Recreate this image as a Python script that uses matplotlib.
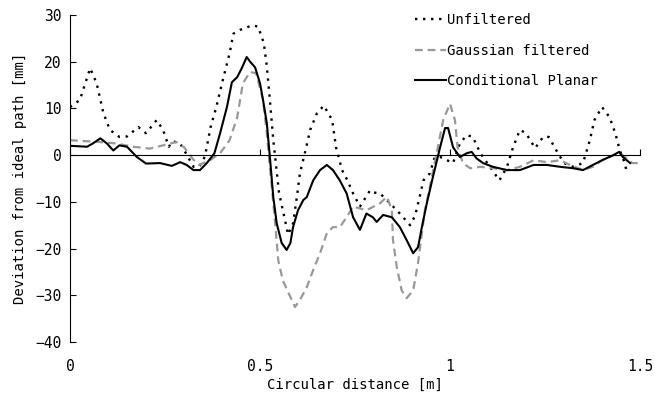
import matplotlib
matplotlib.use("Agg")
import matplotlib.pyplot as plt

# ---- data ----
unf_x = [0.0, 0.026, 0.053, 0.07, 0.088, 0.105, 0.13, 0.15, 0.18, 0.2, 0.228, 0.245, 0.26, 0.27, 0.29,
         0.31, 0.325, 0.34, 0.355, 0.37, 0.385, 0.40, 0.42, 0.43, 0.447, 0.47, 0.48, 0.495, 0.51, 0.518,
         0.526, 0.535, 0.55, 0.574, 0.587, 0.597, 0.605, 0.618, 0.632, 0.65, 0.668, 0.69, 0.70, 0.716,
         0.73, 0.745, 0.763, 0.79, 0.80, 0.816, 0.842, 0.868, 0.895, 0.908, 0.92, 0.93, 0.947, 0.96,
         0.974, 0.99, 1.008, 1.026, 1.044, 1.06, 1.08, 1.105, 1.13, 1.15, 1.166, 1.184, 1.2, 1.224,
         1.245, 1.26, 1.28, 1.30, 1.324, 1.35, 1.368, 1.38, 1.40, 1.42, 1.435, 1.447, 1.46, 1.465]
unf_y = [10.3, 11.8, 18.6, 15.4, 9.0, 5.4, 3.9, 4.0, 6.0, 4.7, 7.5, 5.4, 1.8, 3.0, 2.5,
         -0.3, -2.5, -2.5, -0.3, 6.0, 10.3, 15.4, 21.8, 26.0, 26.8, 27.5, 27.8, 27.5, 24.0, 19.0,
         11.8, 3.2, -8.0, -17.0, -14.6, -9.0, -3.9, 0.4, 5.4, 9.0, 10.6, 7.5, 1.7, -3.2,
         -5.4, -8.2, -11.0, -7.5, -8.0, -8.2, -10.3, -12.5, -15.0, -13.0, -9.0, -5.4, -3.9, -0.4,
         -0.4, -1.0, -1.7, 2.5, 4.3, 3.9, 0.4, -2.5, -5.4, -2.5, 1.7, 5.4, 4.7, 1.5,
         3.9, 3.9, 1.0, -1.7, -2.5, -1.7, 3.2, 7.5, 10.3, 8.1, 4.7, 1.0, -1.7, -3.6]

gau_x = [0.0, 0.04, 0.08, 0.12, 0.166, 0.21, 0.245, 0.28, 0.30, 0.325, 0.34, 0.37, 0.395, 0.42, 0.44,
         0.455, 0.474, 0.49, 0.508, 0.518, 0.526, 0.54, 0.548, 0.56, 0.58, 0.592, 0.605, 0.623, 0.64,
         0.658, 0.676, 0.692, 0.71, 0.728, 0.745, 0.78, 0.816, 0.834, 0.847, 0.85, 0.86, 0.873, 0.886,
         0.903, 0.916, 0.926, 0.934, 0.947, 0.965, 0.982, 1.0, 1.013, 1.02, 1.034, 1.053, 1.08, 1.113,
         1.15, 1.184, 1.22, 1.255, 1.29, 1.316, 1.35, 1.376, 1.40, 1.43, 1.447, 1.465, 1.48, 1.5]
gau_y = [3.2, 3.0, 2.8, 2.5, 1.8, 1.4, 2.1, 2.8, 1.7, -1.0, -2.1, -1.0, 0.4, 3.2, 8.1,
         15.4, 17.8, 17.5, 11.8, 4.7, -2.5, -14.6, -22.5, -26.8, -30.4, -32.5, -31.0, -28.3, -24.6,
         -21.0, -16.7, -15.4, -15.4, -13.3, -11.0, -11.8, -10.3, -8.9, -11.8, -18.2, -24.0, -29.0, -30.6,
         -29.0, -23.0, -16.7, -11.8, -6.8, 0.4, 7.5, 11.0, 7.5, 1.7, -1.7, -2.8, -2.5, -2.8,
         -3.2, -2.5, -1.1, -1.5, -1.1, -2.1, -3.2, -2.5, -1.1, 0.0, 0.4, -0.7, -1.7, -1.7]

cp_x = [0.0, 0.045, 0.06, 0.08, 0.097, 0.114, 0.13, 0.15, 0.176, 0.2, 0.237, 0.268, 0.29, 0.307, 0.325,
        0.342, 0.36, 0.38, 0.395, 0.413, 0.426, 0.44, 0.452, 0.465, 0.474, 0.487, 0.5, 0.508, 0.518,
        0.526, 0.535, 0.544, 0.557, 0.57, 0.58, 0.587, 0.6, 0.614, 0.623, 0.64, 0.658, 0.676, 0.692,
        0.71, 0.728, 0.745, 0.763, 0.78, 0.797, 0.807, 0.824, 0.847, 0.868, 0.886, 0.903, 0.916, 0.926,
        0.939, 0.955, 0.974, 0.987, 0.995, 1.008, 1.026, 1.044, 1.057, 1.07, 1.087, 1.113, 1.15, 1.184,
        1.22, 1.255, 1.29, 1.324, 1.35, 1.376, 1.40, 1.43, 1.445, 1.455, 1.474]
cp_y = [2.0, 1.8, 2.5, 3.6, 2.5, 1.0, 2.1, 1.8, -0.4, -1.8, -1.7, -2.3, -1.5, -2.1, -3.2,
        -3.2, -1.7, 0.4, 4.7, 10.3, 15.6, 16.7, 18.6, 21.0, 20.0, 18.8, 15.4, 11.8, 6.8,
        -0.4, -9.0, -14.6, -18.8, -20.3, -18.8, -15.4, -11.8, -9.6, -9.0, -5.4, -3.2, -2.1, -3.2,
        -5.4, -8.2, -13.3, -16.0, -12.5, -13.3, -14.3, -12.8, -13.3, -15.4, -18.2, -21.0, -19.7, -15.4,
        -10.3, -4.7, 1.7, 5.8, 5.8, 1.7, -0.4, 0.4, 0.7, -0.7, -1.7, -2.5, -3.2, -3.2,
        -2.1, -2.1, -2.5, -2.8, -3.2, -2.1, -1.1, 0.0, 0.7, -0.4, -1.7]

labels = ["Unfiltered", "Gaussian filtered", "Conditional Planar"]
x_ticks = [0, 0.5, 1, 1.5]
x_ticklabels = ["0", "0.5", "1", "1.5"]
y_ticks = [-40, -30, -20, -10, 0, 10, 20, 30]

# ---- figure ----
plt.rcParams['font.family'] = ['DejaVu Sans Mono']
fig = plt.figure(figsize=(6.55, 3.94), dpi=100)
ax = fig.add_axes([70 / 655, 1 - 342 / 394, 570 / 655, 327 / 394])

ax.plot(unf_x, unf_y, color='black', lw=1.7, linestyle=(0, (1, 2.4)), label=labels[0])
ax.plot(gau_x, gau_y, color='#999999', lw=1.6, linestyle=(0, (3.5, 2.2)), label=labels[1])
ax.plot(cp_x, cp_y, color='black', lw=1.5, label=labels[2])

ax.set_xlim(0, 1.5)
ax.set_ylim(-40, 30)

for s in ['top', 'right']:
    ax.spines[s].set_visible(False)
ax.spines['left'].set_linewidth(0.8)
ax.spines['bottom'].set_position(('data', 0))
ax.spines['bottom'].set_linewidth(0.8)

ax.set_yticks(y_ticks)
ax.tick_params(axis='y', direction='in', length=4, width=0.8, labelsize=10.5, pad=6)
ax.set_xticks(x_ticks)
ax.tick_params(axis='x', direction='in', length=4, width=0.8, labelbottom=False)

sec = ax.secondary_xaxis('bottom')
sec.spines['bottom'].set_visible(False)
sec.set_xticks(x_ticks)
sec.set_xticklabels(x_ticklabels)
sec.tick_params(axis='x', length=0, labelsize=10.5, pad=12)
sec.set_xlabel("Circular distance [m]", fontsize=10, labelpad=3)

ax.set_ylabel("Deviation from ideal path [mm]", fontsize=10, labelpad=6)

ax.legend(loc='upper left', bbox_to_anchor=(415 / 655, 1 - 13 / 394), bbox_transform=fig.transFigure,
          frameon=False, fontsize=10, handlelength=2.2, handletextpad=0.1, labelspacing=1.2,
          borderaxespad=0, borderpad=0)

fig.savefig("out.png", dpi=100)
